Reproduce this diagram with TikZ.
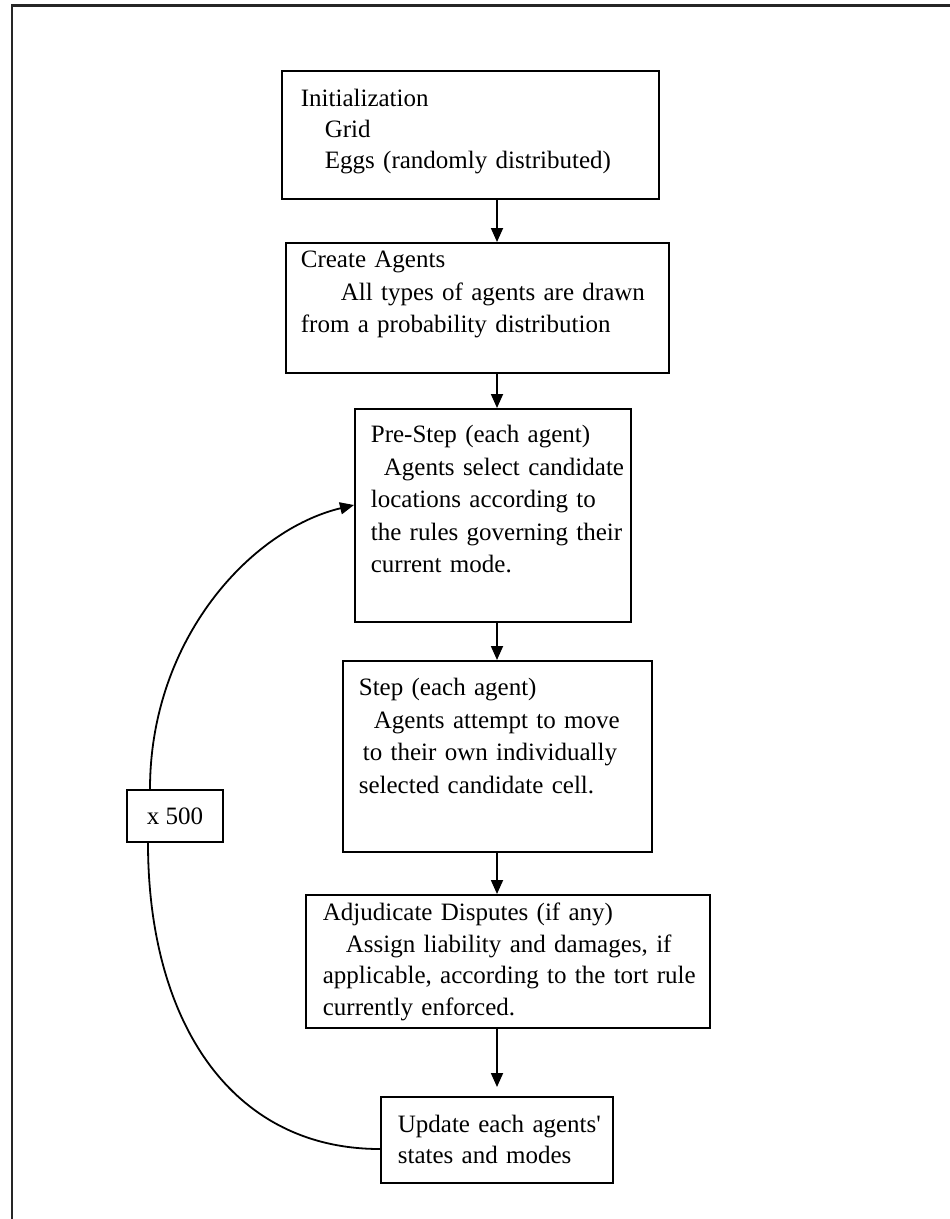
\documentclass[tikz,border=0pt]{standalone}
\usepackage{fontspec}
\setmainfont{Liberation Serif}
\usetikzlibrary{arrows.meta,calc}
\newcommand\tline[2]{\mbox{\hspace{#1}#2}}
\newcommand\sq{\XeTeXglyph\XeTeXcharglyph"0027\relax}
\begin{document}
\begin{tikzpicture}[x=1pt,y=-1pt,
  every node/.style={font=\fontsize{25}{32.5}\selectfont},
  flowbox/.style={draw, line width=1.7pt, anchor=north west, inner sep=0pt, align=left},
  flow/.style={line width=1.8pt, -{Triangle[length=14pt,width=12pt]}},
  loopline/.style={line width=1.8pt},
  frameline/.style={line width=2.2pt, draw=black!85},
]
\useasboundingbox (0,0) rectangle (950,1219);
\draw[frameline] (12,1219) -- (12,5.5) -- (950,5.5);

\node[flowbox, text width=377pt, text height=36pt, text depth=92pt,
  font=\fontsize{25}{31}\selectfont] (b1) at (281,70)
  {\tline{19pt}{Initialization}\\ \tline{43pt}{Grid}\\ \tline{43pt}{Eggs (randomly distributed)}};

\node[flowbox, text width=383pt, text height=25pt, text depth=105pt] (b2) at (285,242)
  {\tline{15pt}{Create Agents}\\ \tline{55pt}{All types of agents are drawn}\\ \tline{15pt}{from a probability distribution}};

\node[flowbox, text width=276pt, text height=34pt, text depth=179pt] (b3) at (354,408)
  {\tline{16pt}{Pre-Step (each agent)}\\ \tline{29pt}{Agents select candidate}\\ \tline{16pt}{locations according to}\\ \tline{16pt}{the rules governing their}\\ \tline{16pt}{current mode.}};

\node[flowbox, text width=309pt, text height=35pt, text depth=156pt] (b4) at (342,660)
  {\tline{16pt}{Step (each agent)}\\ \tline{31pt}{Agents attempt to move}\\ \tline{20pt}{to their own individually}\\ \tline{16pt}{selected candidate cell.}};

\node[flowbox, text width=404pt, text height=26pt, text depth=107pt,
  font=\fontsize{25}{31.5}\selectfont] (b5) at (305,894)
  {\tline{17pt}{Adjudicate Disputes (if any)}\\ \tline{40pt}{Assign liability and damages, if}\\ \tline{17pt}{applicable, according to the tort rule}\\ \tline{17pt}{currently enforced.}};

\node[flowbox, text width=232pt, text height=36pt, text depth=50pt,
  font=\fontsize{25}{31}\selectfont] (b6) at (380,1096)
  {\tline{17pt}{Update each agents\sq}\\ \tline{17pt}{states and modes}};

\node[draw, line width=1.7pt, minimum width=96pt, minimum height=52pt, inner sep=0pt] (x5) at (175,816) {x 500};

\coordinate (ax) at (497,0);
\draw[flow] (b1.south -| ax) -- (b2.north -| ax);
\draw[flow] (b2.south -| ax) -- (b3.north -| ax);
\draw[flow] (b3.south -| ax) -- (b4.north -| ax);
\draw[flow] (b4.south -| ax) -- (b5.north -| ax);
\draw[flow, shorten >=9pt] (b5.south -| ax) -- (b6.north -| ax);

\draw[flow] ([xshift=-25pt]x5.north) .. controls (150,640) and (250,530) .. (b3.west |- 0,505);
\draw[loopline] ([xshift=-27pt]x5.south) .. controls (148,1020) and (230,1149) .. (b6.west |- 0,1149);
\end{tikzpicture}
\end{document}
